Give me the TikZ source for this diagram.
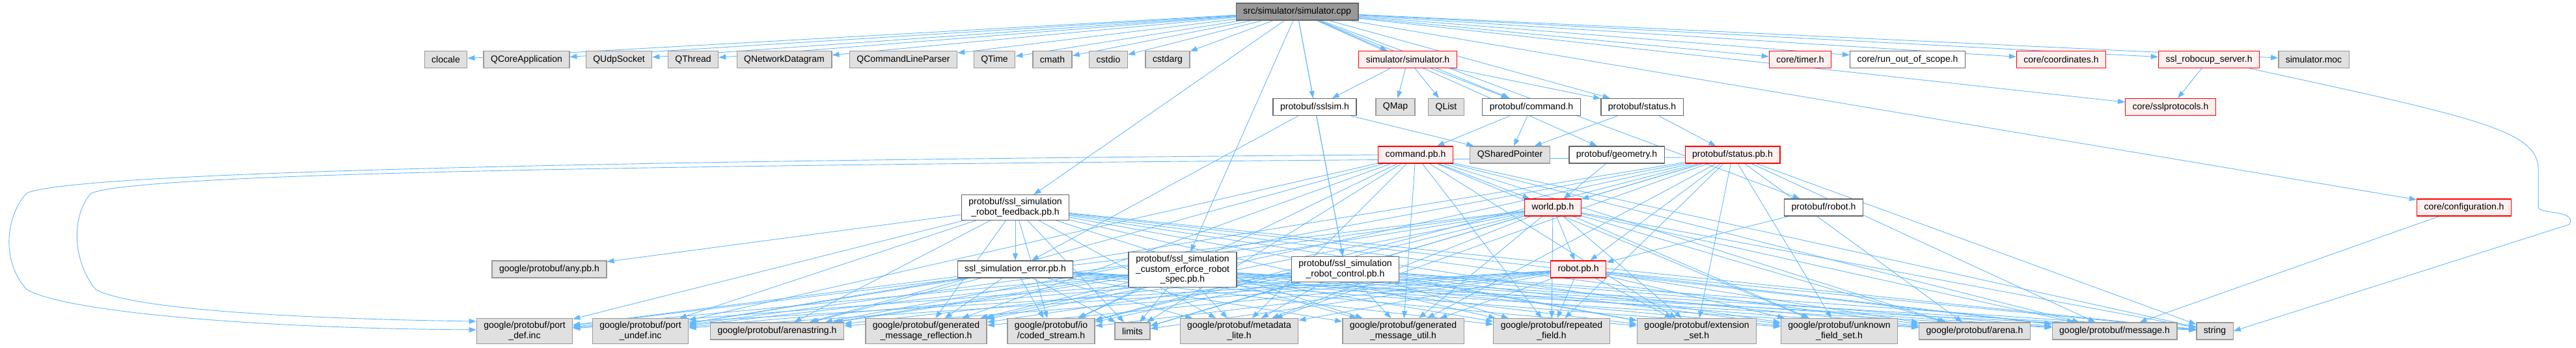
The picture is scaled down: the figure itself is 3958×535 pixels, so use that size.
\documentclass[tikz,border=0pt]{standalone}
\usepackage{fontspec}
\setmainfont{Liberation Sans}
\usetikzlibrary{arrows.meta,backgrounds}
\definecolor{edgec}{HTML}{63B8FF}
\definecolor{rootf}{HTML}{999999}
\definecolor{rootd}{HTML}{666666}
\definecolor{sysf}{HTML}{E0E0E0}
\definecolor{sysd}{HTML}{999999}
\definecolor{redf}{HTML}{FFF0F0}
\definecolor{redd}{HTML}{FF0000}
\tikzset{hdr/.style={draw=rootd,fill=white,line width=1.3pt,inner xsep=11pt,inner ysep=5pt,minimum height=26pt,align=center,font=\fontsize{14}{15.5}\selectfont},
 rooth/.style={hdr,fill=rootf},
 sysh/.style={hdr,draw=sysd,fill=sysf},
 redh/.style={hdr,draw=redd,fill=redf},
 dep/.style={draw=edgec,line width=0.9pt,-{Triangle[length=11pt,width=8pt]}}}
\begin{document}
\begin{tikzpicture}[x=1pt,y=-1pt]
\useasboundingbox (0,0) rectangle (3958,535);
% root and first row
\node[rooth] (root) at (1993,18) {src/simulator/simulator.cpp};
\node[sysh] (clocale) at (685,91.5) {clocale};
\node[sysh] (qcore) at (809,91.5) {QCoreApplication};
\node[sysh] (qudp) at (951,91.5) {QUdpSocket};
\node[sysh] (qthread) at (1065,91.5) {QThread};
\node[sysh] (qnetdg) at (1205,91.5) {QNetworkDatagram};
\node[sysh] (qclp) at (1388,91.5) {QCommandLineParser};
\node[sysh] (qtime) at (1528,91.5) {QTime};
\node[sysh] (cmath) at (1617,91.5) {cmath};
\node[sysh] (cstdio) at (1703,91.5) {cstdio};
\node[sysh] (cstdarg) at (1794,91.5) {cstdarg};
\node[redh] (simh) at (2163,91.5) {simulator/simulator.h};
\node[redh] (timerh) at (2766,91.5) {core/timer.h};
\node[hdr] (runscope) at (2931,91.5) {core/run\_out\_of\_scope.h};
\node[redh] (coordh) at (3167,91.5) {core/coordinates.h};
\node[redh] (robocup) at (3394,91.5) {ssl\_robocup\_server.h};
\node[sysh] (moc) at (3555,91.5) {simulator.moc};
% second row
\node[hdr] (sslsim) at (2020,164.5) {protobuf/sslsim.h};
\node[sysh] (qmap) at (2144,164.5) {QMap};
\node[sysh] (qlist) at (2222,164.5) {QList};
\node[hdr] (cmdh) at (2353,164.5) {protobuf/command.h};
\node[hdr] (statush) at (2523,164.5) {protobuf/status.h};
\node[redh] (sslproto) at (3335,164.5) {core/sslprotocols.h};
% third row
\node[redh] (cmdpb) at (2175,238) {command.pb.h};
\node[sysh] (qshared) at (2320,238) {QSharedPointer};
\node[hdr] (geomh) at (2484,238) {protobuf/geometry.h};
\node[redh] (statuspb) at (2662,238) {protobuf/status.pb.h};
% fourth row
\node[hdr] (fbpb) at (1560,319) {protobuf/ssl\_simulation\\\_robot\_feedback.pb.h};
\node[redh] (worldpb) at (2386,319) {world.pb.h};
\node[hdr] (roboth) at (2802,319) {protobuf/robot.h};
\node[redh] (confh) at (3786,319) {core/configuration.h};
% fifth row
\node[sysh] (anypb) at (844,414) {google/protobuf/any.pb.h};
\node[hdr] (errpb) at (1560,414) {ssl\_simulation\_error.pb.h};
\node[hdr] (specpb) at (1817,414.5) {protobuf/ssl\_simulation\\\_custom\_erforce\_robot\\\_spec.pb.h};
\node[hdr] (ctrlpb) at (2067,414) {protobuf/ssl\_simulation\\\_robot\_control.pb.h};
\node[redh] (robotpb) at (2425,414) {robot.pb.h};
% bottom row
\node[sysh] (portdef) at (806,509) {google/protobuf/port\\\_def.inc};
\node[sysh] (portundef) at (984,509) {google/protobuf/port\\\_undef.inc};
\node[sysh] (arenastr) at (1194,509) {google/protobuf/arenastring.h};
\node[sysh] (gmr) at (1423,509) {google/protobuf/generated\\\_message\_reflection.h};
\node[sysh] (coded) at (1615,509) {google/protobuf/io\\/coded\_stream.h};
\node[sysh] (limits) at (1740,509) {limits};
\node[sysh] (metalite) at (1904,509) {google/protobuf/metadata\\\_lite.h};
\node[sysh] (gmu) at (2156,509) {google/protobuf/generated\\\_message\_util.h};
\node[sysh] (repfield) at (2384,509) {google/protobuf/repeated\\\_field.h};
\node[sysh] (extset) at (2607,509) {google/protobuf/extension\\\_set.h};
\node[sysh] (unkfs) at (2826,509) {google/protobuf/unknown\\\_field\_set.h};
\node[sysh] (arena) at (3034,509) {google/protobuf/arena.h};
\node[sysh] (message) at (3249,509) {google/protobuf/message.h};
\node[sysh] (string) at (3403,509) {string};
% include edges
\begin{scope}[on background layer]
\foreach \t in {clocale,qcore,qudp,qthread,qnetdg,qclp,qtime,cmath,cstdio,cstdarg,simh,sslsim,cmdh,statush,geomh,roboth,fbpb,specpb,ctrlpb,timerh,runscope,coordh,robocup,moc,sslproto,confh}
  \draw[dep] (root) -- (\t);
\foreach \s/\t in {simh/sslsim,simh/qmap,simh/qlist,simh/cmdh,simh/statush,cmdh/cmdpb,cmdh/qshared,statush/statuspb,statush/qshared,sslsim/qshared,sslsim/errpb,sslsim/ctrlpb,robocup/sslproto,confh/message,geomh/worldpb,roboth/robotpb,cmdpb/worldpb,statuspb/worldpb,statuspb/robotpb,worldpb/robotpb,fbpb/anypb,fbpb/errpb}
  \draw[dep] (\s) -- (\t);
\foreach \s in {cmdpb,statuspb,worldpb,robotpb,fbpb,errpb,specpb,ctrlpb}
  \foreach \t in {portundef,arenastr,gmr,coded,limits,metalite,gmu,repfield,extset,unkfs,arena,message,string}
    \draw[dep] (\s) -- (\t);
\foreach \s in {worldpb,robotpb,fbpb,errpb,specpb,ctrlpb}
  \draw[dep] (\s) -- (portdef);
% long arcs round the left side
\draw[dep] (cmdpb.west) .. controls (1200,245) and (120,260) .. (41,297)
  .. controls (10,330) and (0,400) .. (41,445) .. controls (100,480) and (400,505) .. ([yshift=2pt]portdef.west);
\draw[dep] ([yshift=-4pt]statuspb.west) .. controls (1200,252) and (230,262) .. (140,297)
  .. controls (110,330) and (110,400) .. (147,445) .. controls (200,475) and (450,490) .. ([yshift=15pt]portdef.west);
% round the right side
\draw[dep] (robocup) .. controls (3800,180) and (3900,200) .. (3900,260) -- (3900,318)
  .. controls (3900,330) and (3960,322) .. (3948,345) -- (string.east);
\end{scope}
\end{tikzpicture}
\end{document}
